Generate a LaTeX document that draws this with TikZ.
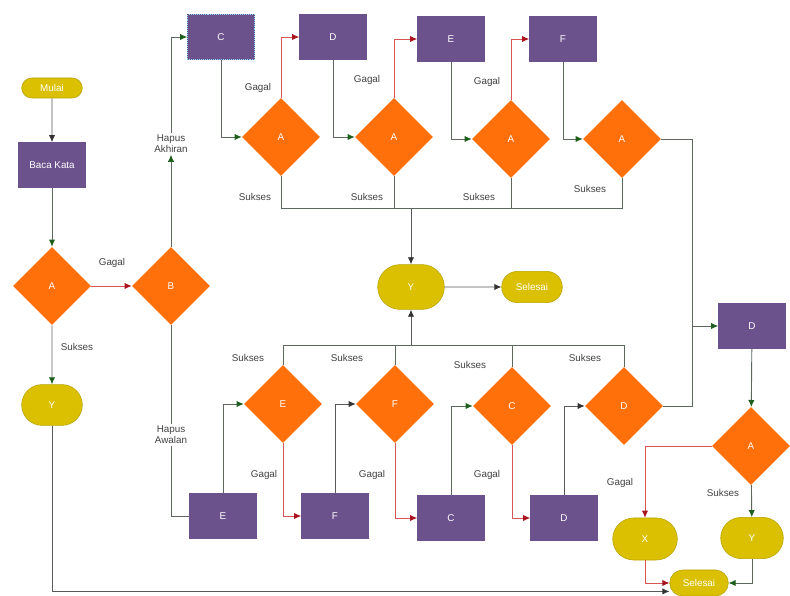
\documentclass[tikz,border=0pt]{standalone}
\usepackage{fontspec}
\setmainfont{Liberation Sans}
\usetikzlibrary{shapes.geometric,shapes.misc,arrows.meta}
\definecolor{ungu}{RGB}{108,82,140}
\definecolor{oranye}{RGB}{255,112,10}
\definecolor{kuning}{RGB}{218,192,0}
\definecolor{abu}{RGB}{95,104,95}
\definecolor{hijau}{RGB}{30,95,30}
\definecolor{merah}{RGB}{215,85,85}
\definecolor{merahtua}{RGB}{170,20,30}
\tikzset{
  isi/.style={text=white, font=\fontsize{7}{8}\selectfont},
  proses/.style={rectangle, fill=ungu, minimum width=1.675cm, minimum height=1.125cm, isi},
  keputusan/.style={diamond, fill=oranye, minimum width=1.95cm, minimum height=1.95cm, inner sep=0pt, isi},
  terminal/.style={rounded rectangle, fill=kuning, draw=kuning!85!black, minimum width=1.8cm, minimum height=1.02cm, isi},
  ket/.style={text=black!75, font=\fontsize{7}{8}\selectfont, inner sep=1pt},
  jalur/.style={draw=abu, line width=0.65pt},
  ok/.style={jalur, -{Latex[length=5pt,width=4.5pt,color=hijau]}},
  tegas/.style={draw=black!65, line width=0.65pt, -{Latex[length=5pt,width=4.5pt,color=black!80]}},
  gagal/.style={draw=merah, line width=0.65pt, -{Latex[length=5pt,width=4.5pt,color=merahtua]}},
}
\begin{document}
\begin{tikzpicture}[x=0.025cm,y=-0.025cm]
\useasboundingbox (0,0) rectangle (790,596);

\node[terminal, minimum width=1.75cm, minimum height=0.5cm] (mulai) at (52,88) {Mulai};
\node[proses] (baca) at (52,165) {Baca Kata};
\node[keputusan] (a0) at (52,286) {A};
\node[keputusan] (b0) at (171,286) {B};
\node[terminal, minimum width=1.75cm] (yl) at (52,405) {Y};
\node[ket] (g0) at (112,263) {Gagal};
\node[ket] (s0) at (77,347) {Sukses};
\node[ket, align=center] (akh) at (171,144) {Hapus\\Akhiran};
\node[ket, align=center] (awl) at (171,435) {Hapus\\Awalan};

\node[proses, draw=cyan!45, densely dotted] (c1) at (221,37) {C};
\node[proses] (d1) at (333,37) {D};
\node[proses] (e1) at (451,39) {E};
\node[proses] (f1) at (563,39) {F};
\node[keputusan] (a1) at (281,137) {A};
\node[keputusan] (a2) at (394,137) {A};
\node[keputusan] (a3) at (511,139) {A};
\node[keputusan] (a4) at (622,139) {A};
\node[ket] (g1) at (258,88) {Gagal};
\node[ket] (g2) at (367,80) {Gagal};
\node[ket] (g3) at (487,82) {Gagal};
\node[ket] (s1) at (255,197) {Sukses};
\node[ket] (s2) at (367,197) {Sukses};
\node[ket] (s3) at (479,197) {Sukses};
\node[ket] (s4) at (590,189) {Sukses};
\coordinate (bus1) at (410,208);

\node[terminal, minimum width=1.9cm, minimum height=1.12cm] (yt) at (411,287) {Y};
\node[terminal, minimum width=1.75cm, minimum height=0.78cm] (sel1) at (532,287) {Selesai};

\node[proses] (e2) at (223,516) {E};
\node[proses] (f2) at (335,516) {F};
\node[proses] (c2) at (451,518) {C};
\node[proses] (d2) at (564,518) {D};
\node[keputusan] (e3) at (283,404) {E};
\node[keputusan] (f3) at (395,404) {F};
\node[keputusan] (c3) at (512,406) {C};
\node[keputusan] (d3) at (624,406) {D};
\node[ket] (g4) at (264,475) {Gagal};
\node[ket] (g5) at (372,475) {Gagal};
\node[ket] (g6) at (487,475) {Gagal};
\node[ket] (s5) at (248,358) {Sukses};
\node[ket] (s6) at (347,358) {Sukses};
\node[ket] (s7) at (470,365) {Sukses};
\node[ket] (s8) at (585,358) {Sukses};
\coordinate (bus2) at (410,345);

\node[proses] (d4) at (752,326) {D};
\node[keputusan] (a5) at (751,446) {A};
\node[terminal, minimum width=1.85cm, minimum height=1.05cm] (x5) at (645,539) {X};
\node[terminal, minimum width=1.8cm, minimum height=1.03cm] (y5) at (752,538) {Y};
\node[terminal, minimum width=1.7cm, minimum height=0.65cm] (sel2) at (699,583) {Selesai};
\node[ket] (g7) at (620,483) {Gagal};
\node[ket] (s9) at (723,493) {Sukses};
\coordinate (sambung) at (692,326);

\draw[tegas] (mulai) -- (baca);
\draw[ok] (baca) -- (a0);
\draw[gagal] (a0) -- (b0);
\draw[ok] (a0) -- (yl);
\draw[ok] (b0.north) -- (akh.south);
\draw[ok] (akh.north) |- (c1.west);
\draw[jalur] (b0.south) -- (awl.north);
\draw[jalur] (awl.south) |- (e2.west);
\draw[tegas] (yl.south) |- ([yshift=-6pt]sel2.west);

\draw[ok] (c1.south) |- (a1.west);
\draw[gagal] (a1.north) |- (d1.west);
\draw[ok] (d1.south) |- (a2.west);
\draw[gagal] (a2.north) |- (e1.west);
\draw[ok] (e1.south) |- (a3.west);
\draw[gagal] (a3.north) |- (f1.west);
\draw[ok] (f1.south) |- (a4.west);
\draw[jalur] (a1.south) |- (a4.south |- bus1) -- (a4.south);
\draw[jalur] (a2.south) -- (a2.south |- bus1);
\draw[jalur] (a3.south) -- (a3.south |- bus1);
\draw[tegas] (yt.north |- bus1) -- (yt.north);
\draw[tegas] (yt) -- (sel1);

\draw[ok] (e2.north) |- (e3.west);
\draw[gagal] (e3.south) |- (f2.west);
\draw[tegas] (f2.north) |- (f3.west);
\draw[gagal] (f3.south) |- (c2.west);
\draw[ok] (c2.north) |- (c3.west);
\draw[gagal] (c3.south) |- (d2.west);
\draw[tegas] (d2.north) |- (d3.west);
\draw[jalur] (e3.north) |- (d3.north |- bus2) -- (d3.north);
\draw[jalur] (f3.north) -- (f3.north |- bus2);
\draw[jalur] (c3.north) -- (c3.north |- bus2);
\draw[tegas] (yt.south |- bus2) -- (yt.south);

\draw[ok] (a4.east) -| (sambung) -- (d4.west);
\draw[jalur] (d3.east) -| (sambung);
\draw[ok] (d4) -- (a5);
\draw[gagal] (a5.west) -| (x5.north);
\draw[ok] (a5) -- (y5);
\draw[gagal] (x5.south) |- (sel2.west);
\draw[ok] (y5.south) |- (sel2.east);
\end{tikzpicture}
\end{document}
